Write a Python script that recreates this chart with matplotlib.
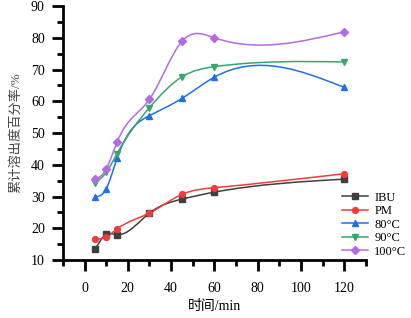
import numpy as np
import matplotlib.pyplot as plt
from matplotlib.path import Path
from matplotlib.patches import PathPatch
from matplotlib.ticker import MultipleLocator

plt.rcParams['font.family'] = ['Liberation Serif', 'Noto Sans CJK SC']

# time points (min)
time = [5, 10, 15, 30, 45, 60, 120]

# cumulative dissolution (%)
ibu = [13.5, 18.1, 18.0, 24.8, 29.2, 31.4, 35.5]
pm = [16.5, 17.3, 19.8, 24.8, 30.7, 32.8, 37.2]
t80 = [29.9, 32.4, 42.0, 55.5, 60.9, 67.6, 64.4]
t90 = [34.4, 37.6, 43.5, 58.0, 67.7, 70.9, 72.4]
t100 = [35.5, 38.6, 47.1, 60.6, 78.9, 80.0, 81.9]

labels = ['IBU', 'PM', '80°C', '90°C', '100°C']
colors = ['#3f3f3f', '#f23b3b', '#1f6fe8', '#34a86a', '#b36be3']
markers = ['s', 'o', '^', 'v', 'D']


def spline_path(x, y):
    # natural cubic spline, drawn as bezier segments
    x = np.asarray(x, float)
    y = np.asarray(y, float)
    n = len(x)
    h = np.diff(x)
    A = np.zeros((n, n))
    b = np.zeros(n)
    A[0, 0] = 1
    A[-1, -1] = 1
    for i in range(1, n - 1):
        A[i, i - 1] = h[i - 1]
        A[i, i] = 2 * (h[i - 1] + h[i])
        A[i, i + 1] = h[i]
        b[i] = 6 * ((y[i + 1] - y[i]) / h[i] - (y[i] - y[i - 1]) / h[i - 1])
    m = np.linalg.solve(A, b)
    d = np.zeros(n)
    for i in range(n - 1):
        d[i] = (y[i + 1] - y[i]) / h[i] - h[i] * (2 * m[i] + m[i + 1]) / 6
    d[-1] = (y[-1] - y[-2]) / h[-1] + h[-1] * (m[-2] + 2 * m[-1]) / 6
    verts = [(x[0], y[0])]
    codes = [Path.MOVETO]
    for i in range(n - 1):
        verts += [(x[i] + h[i] / 3, y[i] + d[i] * h[i] / 3),
                  (x[i + 1] - h[i] / 3, y[i + 1] - d[i + 1] * h[i] / 3),
                  (x[i + 1], y[i + 1])]
        codes += [Path.CURVE4] * 3
    return Path(verts, codes)


fig = plt.figure(figsize=(4.11, 3.18), dpi=100)
ax = fig.add_axes([0.153, 0.182, 0.737, 0.799])

for vals, lab, c, mk in zip([ibu, pm, t80, t90, t100], labels, colors, markers):
    ax.add_patch(PathPatch(spline_path(time, vals), facecolor='none',
                           edgecolor=c, lw=1.1))
    ms = 3.6 if mk == 'D' else 4.2
    ax.plot(time, vals, linestyle='none', marker=mk, color=c, markersize=ms)
    # legend handle
    ax.plot([], [], color=c, marker=mk, lw=1.1, markersize=ms, label=lab)

ax.set_xlim(-10, 130)
ax.set_ylim(10, 90)
ax.xaxis.set_minor_locator(MultipleLocator(10))
ax.yaxis.set_major_locator(MultipleLocator(10))
ax.yaxis.set_minor_locator(MultipleLocator(5))
ax.set_xticks([0, 20, 40, 60, 80, 100, 120])

for s in ['top', 'right']:
    ax.spines[s].set_visible(False)
for s in ['left', 'bottom']:
    ax.spines[s].set_linewidth(2)

ax.tick_params(which='major', direction='out', length=8, width=2, labelsize=10)
ax.tick_params(which='minor', direction='out', length=4.5, width=2)
ax.tick_params(axis='x', which='major', pad=7.5)
ax.tick_params(axis='y', which='major', pad=5)

ax.set_xlabel('时间/min', fontsize=10, labelpad=4)
ax.set_ylabel('累计溶出度百分率/%', fontsize=9.5, color='#444444', labelpad=6)

ax.legend(loc='upper left', bbox_to_anchor=(0.921, 0.27), frameon=False,
          fontsize=9, handlelength=2.1, handletextpad=0.5, labelspacing=0.12,
          borderaxespad=0, borderpad=0)

fig.savefig('out.png', dpi=100)
